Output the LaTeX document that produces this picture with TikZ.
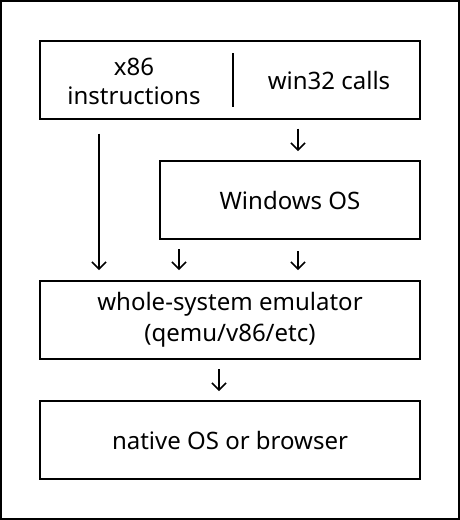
\documentclass[tikz,border=0pt]{standalone}
\usepackage{fontspec}
\setmainfont{Noto Sans}
\usetikzlibrary{arrows.meta,positioning}

\begin{document}
\begin{tikzpicture}[x=1pt, y=-1pt,
    box/.style={rectangle, draw, line width=2pt, minimum height=78pt, align=center, font=\fontsize{24}{31}\selectfont},
    lbl/.style={align=center, font=\fontsize{24}{29}\selectfont},
    arr/.style={-{Straight Barb[length=7pt, width=14pt]}, line width=1.5pt}]
    \useasboundingbox (0,0) rectangle (460,520);
    % Frame
    \draw[line width=2pt] (1,1) rectangle (459,519);

    % Boxes
    \node[box, minimum width=380pt] (top) at (230,79.5) {};
    \node[box, minimum width=260pt] (win) at (290,200) {Windows OS};
    \node[box, minimum width=380pt] (emu) at (230,320) {whole-system emulator\\(qemu/v86/etc)};
    \node[box, minimum width=380pt] (native) at (230,440) {native OS or browser};

    % Inputs inside the top box
    \node[lbl] (x86) at (134,81) {x86\\instructions};
    \node[lbl] (win32) at (329,80) {win32 calls};
    \coordinate (divtop) at (233,53);
    \coordinate (divbot) at (233,107);
    \draw[line width=2pt] (divtop) -- (divbot);

    % Connections
    \draw[arr, shorten <=14pt, shorten >=10pt] ([xshift=60pt]top.south west) -- ([xshift=60pt]emu.north west);
    \draw[arr, shorten <=9pt, shorten >=9pt] ([xshift=259pt]top.south west) -- ([xshift=139pt]win.north west);
    \draw[arr, shorten <=9pt, shorten >=10pt] ([xshift=20pt]win.south west) -- ([xshift=140pt]emu.north west);
    \draw[arr, shorten <=11pt, shorten >=10pt] ([xshift=139pt]win.south west) -- ([xshift=259pt]emu.north west);
    \draw[arr, shorten <=9pt, shorten >=9pt] ([xshift=180pt]emu.south west) -- ([xshift=180pt]native.north west);
\end{tikzpicture}
\end{document}
